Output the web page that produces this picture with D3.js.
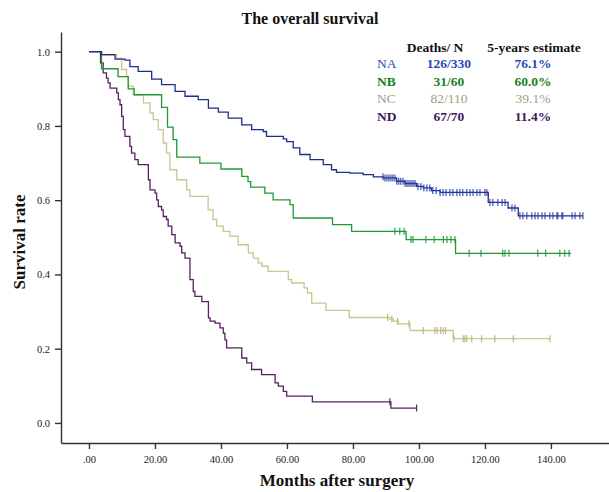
<!DOCTYPE html>
<html>
<head>
<meta charset="utf-8">
<script src="https://cdn.jsdelivr.net/npm/d3@7"></script>
<style>
  body { margin: 0; background: #fff; }
  svg { display: block; font-family: "Liberation Serif", "DejaVu Serif", serif; }
</style>
</head>
<body>
<svg width="609" height="492"></svg>
<script>
// Kaplan-Meier steps: [months, survival]
var naSteps = [[0,1],[3.8,0.992],[7.9,0.980],[10.9,0.977],[12.4,0.960],[14.9,0.947],[19.0,0.926],
  [22.0,0.911],[26.1,0.893],[29.1,0.880],[33.1,0.871],[36.2,0.848],[39.2,0.837],[42.2,0.821],
  [46.3,0.803],[49.3,0.790],[52.8,0.785],[53.8,0.772],[58.9,0.765],[59.9,0.758],[61.9,0.741],
  [63.9,0.723],[67.0,0.709],[71.0,0.696],[73.5,0.682],[75.0,0.675],[79.1,0.673],[83.1,0.669],
  [86.2,0.663],[89.2,0.660],[93.2,0.651],[95.8,0.645],[99.3,0.637],[101.3,0.633],[103.8,0.626],
  [106.4,0.621],[121.0,0.594],[127.0,0.579],[130.1,0.558]];
var naEnd = 149.7;
var naCensor = [89.1,89.7,90.3,90.9,91.5,92.1,92.7,93.3,93.9,94.5,95.2,95.8,96.4,97.0,97.6,98.2,
  98.8,99.7,100.6,101.5,102.4,103.3,104.2,105.2,106.4,107.3,108.2,109.4,110.3,111.5,112.4,113.3,
  114.5,115.5,116.4,117.6,118.5,120.0,120.6,121.5,122.4,123.9,125.2,126.1,128.2,129.1,130.6,
  131.5,132.7,134.2,135.2,136.1,137.3,138.2,139.7,140.6,141.8,142.1,143.3,143.6,146.4,147.3,
  148.8,149.7];

var nbSteps = [[0,1],[3.8,0.954],[8.8,0.933],[11.9,0.900],[13.7,0.884],[22.0,0.850],[23.8,0.797],
  [25.5,0.763],[26.6,0.716],[33.6,0.700],[40.0,0.684],[46.3,0.664],[48.2,0.650],[49.0,0.635],
  [53.3,0.619],[55.8,0.601],[60.9,0.588],[61.9,0.552],[73.8,0.534],[79.6,0.516],[96.1,0.494],
  [111.1,0.457]];
var nbEnd = 146.1;
var nbCensor = [92.7,94.2,95.5,97.6,98.2,102.1,104.6,107.4,108.5,109.7,110.9,115.2,118.8,125.4,
  126.1,127.3,136.0,138.4,142.7,144.2,145.5];

var ncSteps = [[0,1],[3.5,0.991],[8.4,0.982],[9.9,0.952],[11.4,0.933],[11.9,0.907],[13.4,0.884],
  [16.5,0.862],[18.5,0.835],[19.5,0.817],[21.0,0.790],[22.5,0.754],[23.5,0.727],[24.5,0.682],
  [26.6,0.655],[29.6,0.628],[30.6,0.610],[36.1,0.574],[37.6,0.548],[38.7,0.530],[40.7,0.516],
  [42.7,0.503],[45.2,0.480],[48.3,0.458],[49.8,0.444],[51.3,0.431],[52.4,0.422],[54.3,0.408],
  [60.4,0.386],[61.4,0.377],[65.2,0.364],[66.2,0.350],[67.5,0.323],[71.8,0.303],[78.9,0.284],
  [91.2,0.280],[92.2,0.274],[93.7,0.267],[97.3,0.249],[110.4,0.227]];
var ncEnd = 139.7;
var ncCensor = [90.5,91.8,93.5,97.0,101.3,104.8,105.5,106.6,107.4,108.1,110.6,113.4,113.9,114.5,
  116.0,119.0,123.0,128.6,139.7];

var ndSteps = [[0,1],[3.5,0.970],[4.3,0.943],[5.3,0.929],[5.8,0.916],[6.4,0.902],[8.4,0.889],
  [8.9,0.871],[9.4,0.857],[9.9,0.826],[10.4,0.790],[10.9,0.772],[12.4,0.745],[12.9,0.727],
  [13.9,0.709],[14.9,0.696],[18.0,0.655],[18.5,0.628],[20.0,0.619],[20.5,0.601],[21.0,0.583],
  [22.0,0.574],[22.5,0.556],[23.5,0.548],[24.0,0.530],[25.1,0.507],[26.1,0.485],[27.6,0.476],
  [28.1,0.458],[29.1,0.444],[30.6,0.386],[31.6,0.354],[32.1,0.341],[34.2,0.327],[36.2,0.283],
  [36.7,0.274],[38.2,0.269],[39.7,0.256],[40.7,0.242],[41.2,0.224],[41.7,0.202],[46.3,0.175],
  [47.8,0.162],[49.3,0.144],[52.3,0.130],[56.4,0.108],[57.4,0.099],[58.9,0.085],[59.9,0.072],
  [67.7,0.057],[91.5,0.040]];
var ndEnd = 99.3;
var ndCensor = [91.2,99.3];

// legend table
var groups = ["NA", "NB", "NC", "ND"];
var deathsN = ["126/330", "31/60", "82/110", "67/70"];
var estimates = ["76.1%", "60.0%", "39.1%", "11.4%"];

var xTicks = [0, 20, 40, 60, 80, 100, 120, 140];
var yTicks = [0, 0.2, 0.4, 0.6, 0.8, 1.0];

var lineColor = { NA: "#1f2d8a", NB: "#1f9a33", NC: "#c9c68e", ND: "#55215f" };
var markColor = { NA: "#2c42ad", NB: "#1f9a33", NC: "#b7b47a", ND: "#4a1c58" };
var textColor = { NA: "#2a49b8", NB: "#17801f", NC: "#a49c80", ND: "#3b1a5c" };
var textBold = { NA: false, NB: true, NC: false, ND: true };

var svg = d3.select("svg");

var x = d3.scaleLinear().domain([-8.48, 157.6]).range([61, 609]);
var y = d3.scaleLinear().domain([-0.054, 1.053]).range([443, 32]);

// axes
var xAxis = d3.axisBottom(x).tickValues(xTicks).tickSize(6).tickSizeOuter(0)
  .tickFormat(function(d) { return d === 0 ? ".00" : d.toFixed(2); });
var yAxis = d3.axisLeft(y).tickValues(yTicks).tickSize(6).tickSizeOuter(0)
  .tickFormat(d3.format(".1f"));

var gx = svg.append("g").attr("transform", "translate(0,443)").call(xAxis);
var gy = svg.append("g").attr("transform", "translate(61,0)").call(yAxis);

[gx, gy].forEach(function(g) {
  g.select(".domain").attr("stroke", "#333").attr("stroke-width", 1.4);
  g.selectAll(".tick line").attr("stroke", "#333").attr("stroke-width", 1.4);
  g.selectAll(".tick text").attr("fill", "#222")
    .style("font-size", "10.5px").style("font-family", "'Liberation Serif', serif");
});
gx.selectAll(".tick text").attr("dy", "1.05em");
gy.selectAll(".tick text").attr("x", -11);

// curves
var line = d3.line()
  .x(function(d) { return x(d[0]); })
  .y(function(d) { return y(d[1]); })
  .curve(d3.curveStepAfter);

function survAt(steps, t) {
  var s = 1;
  steps.forEach(function(p) { if (p[0] <= t) s = p[1]; });
  return s;
}

var curves = [
  { key: "NC", steps: ncSteps, end: ncEnd, censor: ncCensor },
  { key: "ND", steps: ndSteps, end: ndEnd, censor: ndCensor },
  { key: "NB", steps: nbSteps, end: nbEnd, censor: nbCensor },
  { key: "NA", steps: naSteps, end: naEnd, censor: naCensor }
];

curves.forEach(function(c) {
  var pts = c.steps.concat([[c.end, c.steps[c.steps.length - 1][1]]]);
  svg.append("path")
    .datum(pts)
    .attr("fill", "none")
    .attr("stroke", lineColor[c.key])
    .attr("stroke-width", 1.3)
    .attr("d", line);

  svg.append("g").selectAll("line")
    .data(c.censor)
    .enter()
    .append("line")
    .attr("x1", function(d) { return x(d); })
    .attr("x2", function(d) { return x(d); })
    .attr("y1", function(d) { return y(survAt(c.steps, d)) - 3.5; })
    .attr("y2", function(d) { return y(survAt(c.steps, d)) + 3.5; })
    .attr("stroke", markColor[c.key])
    .attr("stroke-width", 1.1);
});

// titles
svg.append("text").attr("x", 310).attr("y", 24).attr("text-anchor", "middle")
  .style("font-size", "16px").style("font-weight", "bold").attr("fill", "#111")
  .text("The overall survival");

svg.append("text").attr("x", 337).attr("y", 486).attr("text-anchor", "middle")
  .style("font-size", "17px").style("font-weight", "bold").attr("fill", "#111")
  .text("Months after surgery");

svg.append("text").attr("transform", "translate(25,242) rotate(-90)")
  .attr("text-anchor", "middle")
  .style("font-size", "17px").style("font-weight", "bold").attr("fill", "#111")
  .text("Survival rate");

// legend
var legend = svg.append("g").style("font-size", "13.5px");
legend.append("text").attr("x", 435).attr("y", 51.5).attr("text-anchor", "middle")
  .style("font-weight", "bold").attr("fill", "#111").text("Deaths/ N");
legend.append("text").attr("x", 534).attr("y", 51.5).attr("text-anchor", "middle")
  .style("font-weight", "bold").attr("fill", "#111").text("5-years estimate");

var rowY = [68.3, 86, 102.7, 120.5];
groups.forEach(function(g, i) {
  var w = textBold[g] ? "bold" : "normal";
  legend.append("text").attr("x", 377).attr("y", rowY[i])
    .style("font-weight", w).attr("fill", textColor[g]).text(g);
  legend.append("text").attr("x", 449).attr("y", rowY[i]).attr("text-anchor", "middle")
    .style("font-weight", g === "NC" ? "normal" : "bold").attr("fill", textColor[g]).text(deathsN[i]);
  legend.append("text").attr("x", 533).attr("y", rowY[i]).attr("text-anchor", "middle")
    .style("font-weight", g === "NC" ? "normal" : "bold").attr("fill", textColor[g]).text(estimates[i]);
});
</script>
</body>
</html>
